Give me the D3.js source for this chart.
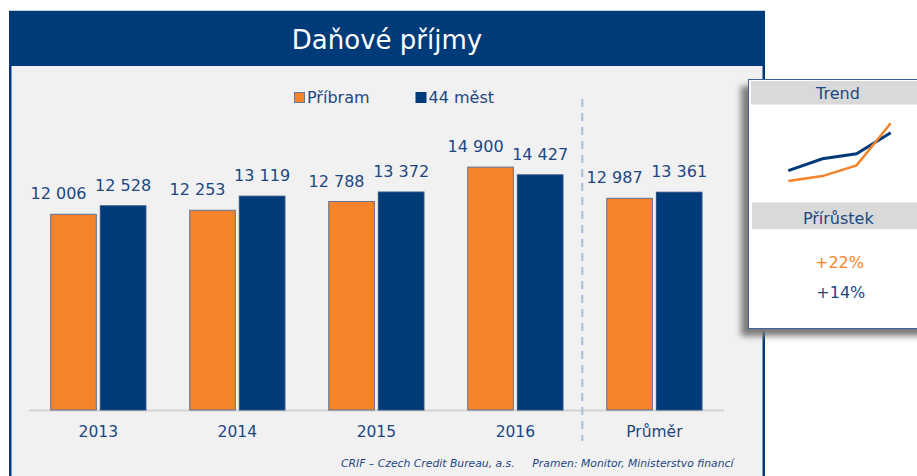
<!DOCTYPE html>
<html>
<head>
<meta charset="utf-8">
<script src="https://cdn.jsdelivr.net/npm/d3@7"></script>
<style>
  html, body { margin: 0; padding: 0; background: #ffffff; }
  svg { display: block; font-family: "DejaVu Sans", Verdana, sans-serif; }
</style>
</head>
<body>
<svg id="chart" width="917" height="476"></svg>
<script>
// ---- data ----
const title = "Daňové příjmy";
const categories = ["2013", "2014", "2015", "2016", "Průměr"];
const seriesNames = ["Příbram", "44 měst"];
const pribram = [12006, 12253, 12788, 14900, 12987];
const mest44 = [12528, 13119, 13372, 14427, 13361];
const trendYears = ["2013", "2014", "2015", "2016"];
const growthLabels = ["+22%", "+14%"];
const panelHeaders = ["Trend", "Přírůstek"];
const footerLeft = "CRIF – Czech Credit Bureau, a.s.";
const footerRight = "Pramen: Monitor, Ministerstvo financí";

// ---- styles ----
const ORANGE = "#f5832a";
const NAVY = "#003b79";
const TEXT = "#1c4782";
const PANEL = "#f1f1f1";
const colors = [ORANGE, NAVY];
const fmt = v => d3.format(",")(v).replace(/,/g, " ");

const svg = d3.select("#chart");
const defs = svg.append("defs");
const f = defs.append("filter").attr("id", "shadow").attr("x", "-20%").attr("y", "-20%").attr("width", "140%").attr("height", "140%");
f.append("feGaussianBlur").attr("stdDeviation", 3);

// main frame
svg.append("rect").attr("x", 10.25).attr("y", 12).attr("width", 753.5).attr("height", 480)
  .attr("fill", PANEL).attr("stroke", NAVY).attr("stroke-width", 2.5);
svg.append("rect").attr("x", 9).attr("y", 12).attr("width", 756).attr("height", 54).attr("fill", NAVY);
svg.append("text").attr("x", 387).attr("y", 49.3).attr("text-anchor", "middle")
  .attr("fill", "#ffffff").attr("font-size", 26).text(title);

// scales
const x0 = d3.scaleBand().domain(categories).range([50.7, 702]).paddingInner(0.315).paddingOuter(0);
const x1 = d3.scaleBand().domain(seriesNames).range([0, x0.bandwidth()]).paddingInner(0.08);
const y = d3.scaleLinear().domain([0, 16000]).range([410, 410 - 16000 * 0.0163]);

const rows = categories.map((c, i) => ({ cat: c, vals: [pribram[i], mest44[i]] }));

// baseline
svg.append("line").attr("x1", 29).attr("x2", 724).attr("y1", 410.5).attr("y2", 410.5)
  .attr("stroke", "#d4d4d4").attr("stroke-width", 2);

// dashed separator
const sepX = (x0("2016") + x0.bandwidth() + x0("Průměr")) / 2 - 2.6;
svg.append("line").attr("x1", sepX).attr("x2", sepX).attr("y1", 99).attr("y2", 441)
  .attr("stroke", "#a3bfdf").attr("stroke-width", 2).attr("stroke-dasharray", "8,6");

// bars
const g = svg.append("g");
const groups = g.selectAll("g.grp").data(rows).join("g").attr("class", "grp")
  .attr("transform", d => `translate(${x0(d.cat)},0)`);
groups.selectAll("rect").data(d => d.vals.map((v, j) => ({ v, j, s: seriesNames[j] }))).join("rect")
  .attr("x", d => x1(d.s)).attr("width", x1.bandwidth())
  .attr("y", d => y(d.v)).attr("height", d => y(0) - y(d.v))
  .attr("fill", d => colors[d.j])
  .attr("stroke", d => d.j === 0 ? "#5d7192" : "#2a4f80").attr("stroke-width", 1);
groups.selectAll("text").data(d => d.vals.map((v, j) => ({ v, j, s: seriesNames[j] }))).join("text")
  .attr("x", d => x1(d.s) + x1.bandwidth() / 2 + (d.j === 0 ? -15 : 0))
  .attr("y", d => y(d.v) - 15)
  .attr("text-anchor", "middle").attr("fill", TEXT).attr("font-size", 16)
  .text(d => fmt(d.v));

// x axis labels
const ax = svg.append("g").attr("transform", "translate(0,410)")
  .call(d3.axisBottom(x0).tickSize(0).tickPadding(15.5));
ax.select(".domain").remove();
ax.selectAll("text").attr("fill", TEXT).attr("font-size", 15.5)
  .attr("font-family", "DejaVu Sans, Verdana, sans-serif");

// legend
const leg = svg.append("g");
const legX = [294.5, 416];
seriesNames.forEach((s, i) => {
  leg.append("rect").attr("x", legX[i]).attr("y", 92.5).attr("width", 10).attr("height", 10)
    .attr("fill", colors[i]).attr("stroke", i === 0 ? "#6b7890" : NAVY).attr("stroke-width", 1);
  leg.append("text").attr("x", legX[i] + 12.5).attr("y", 103.3).attr("fill", TEXT)
    .attr("font-size", 16).text(s);
});

// footer
svg.append("text").attr("x", 341).attr("y", 466.5).attr("fill", TEXT).attr("font-size", 10.8)
  .attr("font-style", "italic").text(footerLeft);
svg.append("text").attr("x", 733.5).attr("y", 466.5).attr("text-anchor", "end").attr("fill", TEXT)
  .attr("font-size", 10.8).attr("font-style", "italic").text(footerRight);

// side panel
svg.append("rect").attr("x", 741).attr("y", 86).attr("width", 220).attr("height", 250)
  .attr("fill", "#7a7a7a").attr("filter", "url(#shadow)");
svg.append("rect").attr("x", 748.5).attr("y", 79.5).attr("width", 220).attr("height", 249)
  .attr("fill", "#ffffff").attr("stroke", "#3f6399").attr("stroke-width", 1);
svg.append("rect").attr("x", 751).attr("y", 81).attr("width", 170).attr("height", 23.5).attr("fill", "#d9d9d9");
svg.append("rect").attr("x", 752).attr("y", 202.5).attr("width", 170).attr("height", 26.5).attr("fill", "#d9d9d9");
svg.append("text").attr("x", 838).attr("y", 99).attr("text-anchor", "middle").attr("fill", TEXT)
  .attr("font-size", 16).text(panelHeaders[0]);
svg.append("text").attr("x", 838.3).attr("y", 224).attr("text-anchor", "middle").attr("fill", TEXT)
  .attr("font-size", 16).text(panelHeaders[1]);

// sparklines
const sx = d3.scalePoint().domain(trendYears).range([788.3, 890.7]);
const sy = d3.scaleLinear().domain([12006, 14900]).range([181, 123.3]);
const line = d3.line().x(d => sx(d.c)).y(d => sy(d.v));
const trendP = trendYears.map((c, i) => ({ c, v: pribram[i] }));
const trendM = trendYears.map((c, i) => ({ c, v: mest44[i] }));
svg.append("path").datum(trendM).attr("d", line).attr("fill", "none")
  .attr("stroke", NAVY).attr("stroke-width", 3);
svg.append("path").datum(trendP).attr("d", line).attr("fill", "none")
  .attr("stroke", ORANGE).attr("stroke-width", 2.5);

// growth
svg.append("text").attr("x", 839.5).attr("y", 268.3).attr("text-anchor", "middle").attr("fill", ORANGE)
  .attr("font-size", 16).text(growthLabels[0]);
svg.append("text").attr("x", 840.8).attr("y", 298.3).attr("text-anchor", "middle").attr("fill", TEXT)
  .attr("font-size", 16).text(growthLabels[1]);
</script>
</body>
</html>
